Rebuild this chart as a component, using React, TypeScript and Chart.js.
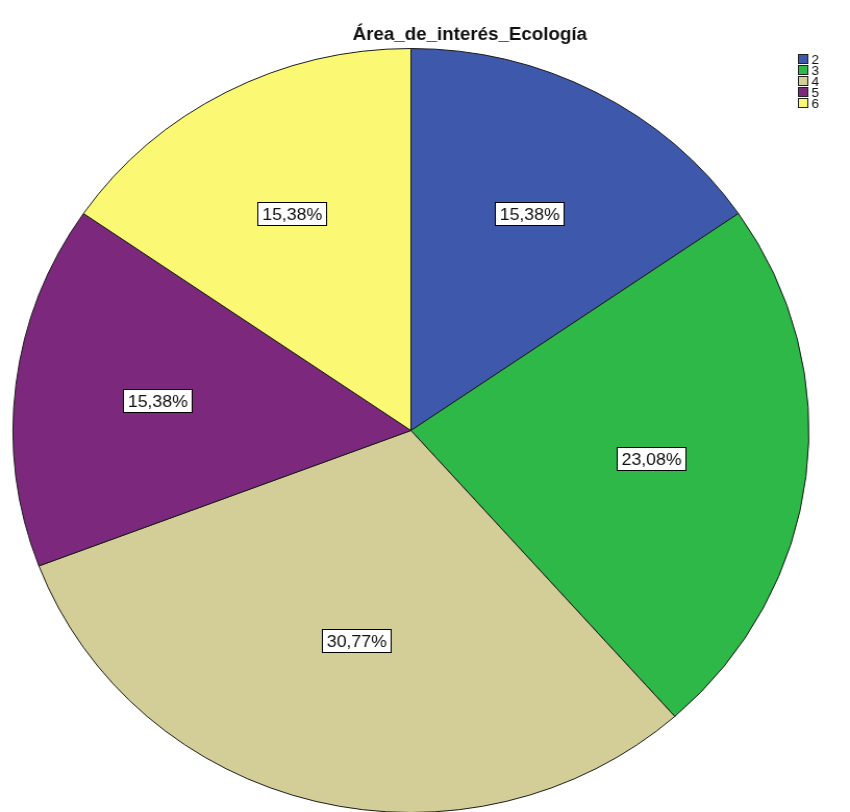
import React, { useEffect, useRef } from "react";
import { Chart, registerables } from "chart.js";

Chart.register(...registerables);

const TITLE = "Área_de_interés_Ecología";
const categories = ["2", "3", "4", "5", "6"];
const counts = [2, 3, 4, 2, 2];
const sliceColors = ["#3E58AC", "#2EB848", "#D3CE97", "#7C287D", "#FBF873"];

const DRAW_W = 816;
const DRAW_H = 816;
const CSS_W = 850;
const FONT = '"Liberation Sans", Arial, Helvetica, sans-serif';

function pct(v: number, total: number): string {
  return ((v / total) * 100).toFixed(2).replace(".", ",") + "%";
}

const overlayPlugin = {
  id: "overlay",
  afterDraw(chart: any) {
    const ctx: CanvasRenderingContext2D = chart.ctx;
    const meta = chart.getDatasetMeta(0);
    const data: number[] = chart.data.datasets[0].data;
    const total = data.reduce((a: number, b: number) => a + b, 0);
    ctx.save();

    // slice value labels, placed at each wedge's centroid
    meta.data.forEach((arc: any, i: number) => {
      const p = arc.getProps(["x", "y", "startAngle", "endAngle", "outerRadius"], true);
      const mid = (p.startAngle + p.endAngle) / 2;
      const half = (p.endAngle - p.startAngle) / 2;
      const dist = (2 * p.outerRadius * Math.sin(half)) / (3 * half);
      const lx = p.x + Math.cos(mid) * dist;
      const ly = p.y + Math.sin(mid) * dist;
      const text = pct(data[i], total);
      ctx.font = `17px ${FONT}`;
      const w = Math.round(ctx.measureText(text).width + 9);
      const h = 24;
      const bx = Math.round(lx - w / 2);
      const by = Math.round(ly - h / 2);
      ctx.fillStyle = "#ffffff";
      ctx.fillRect(bx, by, w, h);
      ctx.strokeStyle = "#000000";
      ctx.lineWidth = 1;
      ctx.strokeRect(bx + 0.5, by + 0.5, w - 1, h - 1);
      ctx.fillStyle = "#111111";
      ctx.textAlign = "center";
      ctx.textBaseline = "middle";
      ctx.fillText(text, bx + w / 2, by + h / 2 + 1);
    });

    // title
    ctx.font = `bold 18px ${FONT}`;
    ctx.fillStyle = "#111111";
    ctx.textAlign = "center";
    ctx.textBaseline = "alphabetic";
    ctx.fillText(TITLE, 451, 40);

    // legend
    const lx = 766;
    const ly0 = 54;
    const step = 11;
    const sz = 10;
    ctx.font = `13px ${FONT}`;
    ctx.textAlign = "left";
    ctx.textBaseline = "middle";
    chart.data.labels.forEach((lab: string, i: number) => {
      const y = ly0 + i * step;
      ctx.fillStyle = sliceColors[i];
      ctx.fillRect(lx, y, sz, sz);
      ctx.strokeStyle = "#222222";
      ctx.lineWidth = 1;
      ctx.strokeRect(lx + 0.5, y + 0.5, sz - 1, sz - 1);
      ctx.fillStyle = "#111111";
      ctx.fillText(lab, lx + sz + 3, y + sz / 2 + 1);
    });

    ctx.restore();
  },
};

export default function App() {
  const ref = useRef<HTMLCanvasElement | null>(null);

  useEffect(() => {
    document.body.style.margin = "0";
    const canvas = ref.current;
    if (!canvas) return;
    const chart = new Chart(canvas, {
      type: "pie",
      data: {
        labels: categories,
        datasets: [
          {
            data: counts,
            backgroundColor: sliceColors,
            borderColor: "#1a1a1a",
            borderWidth: 1,
          },
        ],
      },
      options: {
        responsive: false,
        animation: false,
        devicePixelRatio: 1,
        rotation: 0,
        layout: { padding: { left: 12, top: 48, right: 39, bottom: 3 } },
        plugins: {
          legend: { display: false },
          title: { display: false },
          tooltip: { enabled: false },
        },
      },
      plugins: [overlayPlugin],
    });
    return () => chart.destroy();
  }, []);

  return (
    <div
      style={{
        position: "absolute",
        left: 0,
        top: 0,
        width: CSS_W,
        height: 812,
        overflow: "hidden",
        background: "#ffffff",
      }}
    >
      <canvas
        ref={ref}
        width={DRAW_W}
        height={DRAW_H}
        style={{ width: `${CSS_W}px`, height: `${DRAW_H}px`, display: "block" }}
      />
    </div>
  );
}
